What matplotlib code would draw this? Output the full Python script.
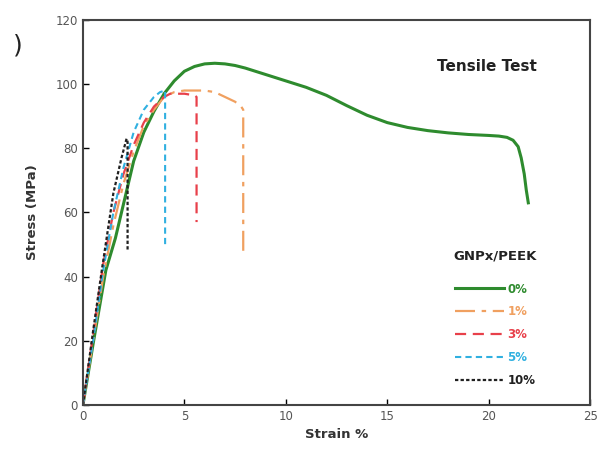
import matplotlib
matplotlib.use('Agg')
import matplotlib.pyplot as plt

# stress-strain curves (strain %, stress MPa)
strain_0 = [0, 0.5, 1.13, 1.6, 2.2, 2.5, 3, 3.5, 4, 4.5, 5, 5.5, 6, 6.5, 7, 7.5, 8, 8.5, 9, 9.5, 10,
            11, 12, 13, 14, 15, 16, 17, 18, 19, 20, 20.5, 20.9, 21.2, 21.45, 21.6, 21.75, 21.85, 21.95]
stress_0 = [0, 19, 42, 52, 68, 76, 85, 91.5, 97, 101, 104, 105.5, 106.3, 106.5, 106.3, 105.8, 105,
            104, 103, 102, 101, 99, 96.5, 93.3, 90.3, 88, 86.5, 85.5, 84.8, 84.3, 84, 83.8, 83.4,
            82.5, 80.5, 77, 72, 67, 63]

strain_1 = [0, 0.5, 1, 1.5, 2, 2.5, 3, 3.5, 4, 4.5, 5, 6, 6.5, 7, 7.5, 7.8, 7.9, 7.9]
stress_1 = [0, 20, 40, 56, 69, 79, 87, 92, 96, 97.5, 98, 98, 97.5, 96, 94.5, 93, 92, 47]

strain_3 = [0, 0.5, 1, 1.5, 2, 2.5, 3, 3.5, 4, 4.3, 5.0, 5.5, 5.6, 5.6]
stress_3 = [0, 22, 44, 60, 72, 81, 88, 93, 96, 97, 97, 96.5, 96, 57]

strain_5 = [0, 0.5, 1, 1.5, 2, 2.5, 3, 3.5, 3.8, 4.05, 4.05]
stress_5 = [0, 20, 42, 60, 74, 85, 92, 96, 97.5, 98, 49]

strain_10 = [0, 0.5, 0.93, 1.5, 1.9, 2.15, 2.2, 2.2]
stress_10 = [0, 23, 42, 66, 77, 83, 82, 48]

labels = ['0%', '1%', '3%', '5%', '10%']
colors = ['#2e8b2e', '#f0a060', '#e8404a', '#30b0e0', '#202020']

fig = plt.figure(figsize=(6.01, 4.53), dpi=100)
ax = fig.add_axes([0.138, 0.106, 0.844, 0.85])

ax.plot(strain_0, stress_0, color=colors[0], lw=2.2, label=labels[0])
ax.plot(strain_1, stress_1, color=colors[1], lw=1.6, ls=(0, (9, 3, 2, 3)), label=labels[1])
ax.plot(strain_3, stress_3, color=colors[2], lw=1.6, ls=(0, (5, 3)), label=labels[2])
ax.plot(strain_5, stress_5, color=colors[3], lw=1.5, ls=(0, (3, 2)), label=labels[3])
ax.plot(strain_10, stress_10, color=colors[4], lw=1.6, ls=(0, (1.5, 1)), label=labels[4])

ax.set_xlim(0, 25)
ax.set_ylim(0, 120)
ax.set_xticks([0, 5, 10, 15, 20, 25])
ax.set_yticks([0, 20, 40, 60, 80, 100, 120])
ax.tick_params(direction='in', labelsize=8.5, labelcolor='#555555', length=4, width=1)
for s in ax.spines.values():
    s.set_color('#444444')
    s.set_linewidth(1.5)

ax.set_xlabel('Strain %', fontsize=9.5, fontweight='bold', color='#333333', labelpad=4)
ax.set_ylabel('Stress (MPa)', fontsize=9.5, fontweight='bold', color='#333333', labelpad=12)

ax.text(0.797, 0.88, 'Tensile Test', transform=ax.transAxes, ha='center', va='center',
        fontsize=11, fontweight='bold', color='#222222')
ax.text(0.813, 0.388, 'GNPx/PEEK', transform=ax.transAxes, ha='center', va='center',
        fontsize=9.5, fontweight='bold', color='#222222')

leg = ax.legend(loc='upper left', bbox_to_anchor=(0.733, 0.318), frameon=False,
                labelcolor='linecolor', prop={'size': 8.5, 'weight': 'bold'},
                borderpad=0, borderaxespad=0,
                handlelength=4.2, handletextpad=0.25, labelspacing=0.84)

fig.text(0.03, 0.9, ')', fontsize=18, color='#222222', ha='center', va='center')

fig.savefig('out.png', dpi=100)
